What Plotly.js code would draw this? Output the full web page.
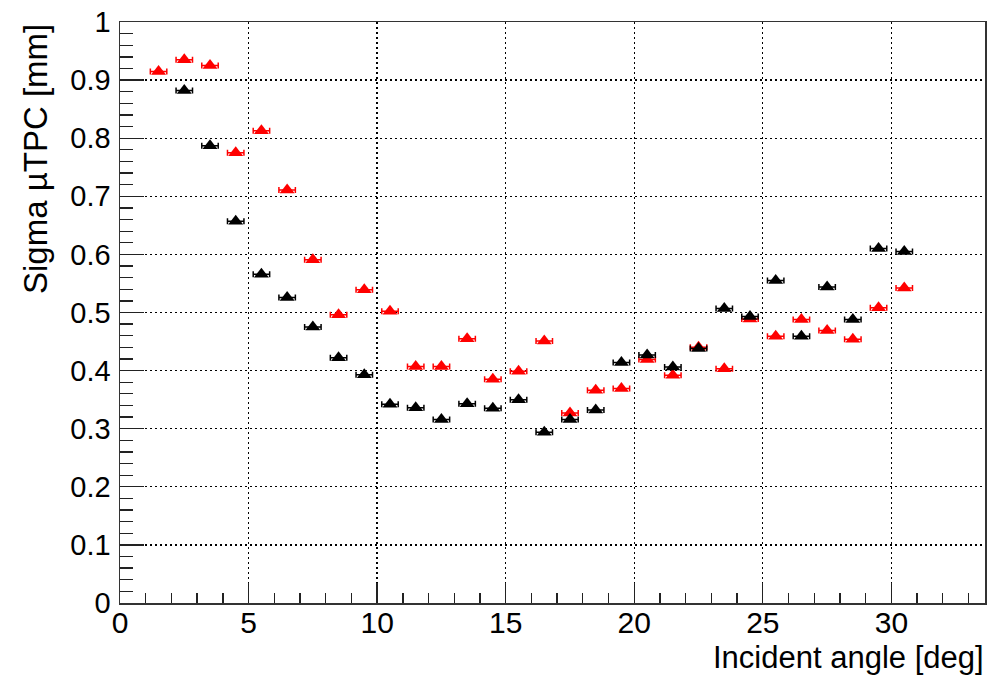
<!DOCTYPE html>
<html>
<head>
<meta charset="utf-8">
<script src="https://cdn.plot.ly/plotly-3.0.1.min.js"></script>
<style>
  html, body { margin: 0; padding: 0; background: #fff; }
  #plot { width: 990px; height: 677px; }
</style>
</head>
<body>
<div id="plot"></div>
<script>
// Incident angle bin centres [deg]
const angleRed = [1.5, 2.5, 3.5, 4.5, 5.5, 6.5, 7.5, 8.5, 9.5, 10.5, 11.5, 12.5, 13.5, 14.5, 15.5,
                  16.5, 17.5, 18.5, 19.5, 20.5, 21.5, 22.5, 23.5, 24.5, 25.5, 26.5, 27.5, 28.5, 29.5, 30.5];
const sigmaRed = [0.915, 0.935, 0.925, 0.775, 0.813, 0.711, 0.591, 0.496, 0.539, 0.502, 0.407, 0.407, 0.455, 0.385, 0.399,
                  0.451, 0.327, 0.366, 0.369, 0.419, 0.392, 0.440, 0.403, 0.489, 0.459, 0.488, 0.469, 0.454, 0.508, 0.542];

const angleBlack = [2.5, 3.5, 4.5, 5.5, 6.5, 7.5, 8.5, 9.5, 10.5, 11.5, 12.5, 13.5, 14.5, 15.5,
                    16.5, 17.5, 18.5, 19.5, 20.5, 21.5, 22.5, 23.5, 24.5, 25.5, 26.5, 27.5, 28.5, 29.5, 30.5];
const sigmaBlack = [0.882, 0.787, 0.657, 0.566, 0.526, 0.475, 0.422, 0.393, 0.342, 0.336, 0.316, 0.343, 0.335, 0.350,
                    0.294, 0.316, 0.332, 0.414, 0.427, 0.406, 0.438, 0.507, 0.493, 0.555, 0.459, 0.544, 0.488, 0.610, 0.605];

// Half-width of the angle bins drawn as horizontal error bars [deg]
const angleErr = 0.32;

const FONT = '"Liberation Sans", Arial, Helvetica, sans-serif';

function series(x, y, color) {
  return {
    type: 'scatter', mode: 'markers', x: x, y: y,
    marker: { symbol: 'triangle-up', size: 13, color: color, line: { width: 0 } },
    error_x: { type: 'constant', value: angleErr, color: color, thickness: 1.5, width: 3 },
    showlegend: false, hoverinfo: 'x+y'
  };
}

const data = [
  series(angleRed, sigmaRed, '#ff0000'),
  series(angleBlack, sigmaBlack, '#000000')
];

const W = 990, H = 677, L = 120, R = 5, T = 22, B = 74;
const pw = W - L - R, ph = H - T - B;

const layout = {
  width: W, height: H,
  margin: { l: L, r: R, t: T, b: B, pad: 0 },
  paper_bgcolor: '#ffffff', plot_bgcolor: '#ffffff',
  font: { family: FONT, color: '#000', size: 30 },
  xaxis: {
    range: [0, 33.64], dtick: 5, tick0: 0,
    ticks: 'inside', ticklen: 20, tickwidth: 1.3, tickcolor: '#222',
    minor: { dtick: 1, ticks: 'inside', ticklen: 10, tickwidth: 1.3, tickcolor: '#222', showgrid: false },
    showgrid: true, gridcolor: '#000', gridwidth: 1.3, griddash: '2px,3px',
    showline: true, linecolor: '#333', linewidth: 1.5, mirror: true,
    zeroline: false, tickfont: { size: 30, family: FONT }, ticklabelstandoff: -8
  },
  yaxis: {
    range: [0, 1], dtick: 0.1, tick0: 0,
    ticks: 'inside', ticklen: 24, tickwidth: 1.3, tickcolor: '#222',
    minor: { dtick: 0.02, ticks: 'inside', ticklen: 13, tickwidth: 1.3, tickcolor: '#222', showgrid: false },
    showgrid: true, gridcolor: '#000', gridwidth: 1.3, griddash: '2px,3px',
    showline: true, linecolor: '#333', linewidth: 1.5, mirror: true,
    zeroline: false, tickfont: { size: 29, family: FONT }, ticklabelstandoff: 2
  },
  annotations: [
    {
      text: 'Sigma µTPC [mm]', textangle: -90,
      xref: 'paper', yref: 'paper',
      x: (35 - L) / pw, y: 1.0, xanchor: 'center', yanchor: 'top',
      showarrow: false, font: { size: 33, family: FONT, color: '#000' }
    },
    {
      text: 'Incident angle [deg]',
      xref: 'paper', yref: 'paper',
      x: 1.0, y: -(H - 1 - (T + ph)) / ph, xanchor: 'right', yanchor: 'bottom',
      borderpad: 0,
      showarrow: false, font: { size: 31, family: FONT, color: '#000' }
    }
  ]
};

Plotly.newPlot('plot', data, layout, { displayModeBar: false, staticPlot: true });
</script>
</body>
</html>
